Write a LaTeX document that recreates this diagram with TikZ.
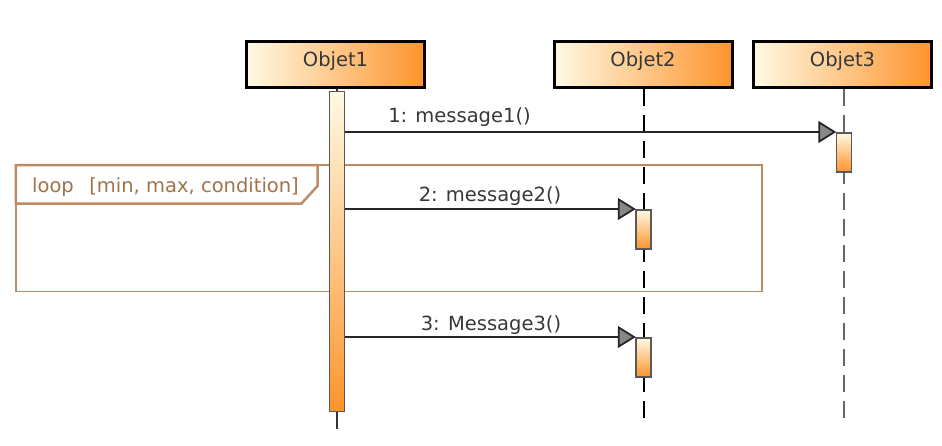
\documentclass[tikz,border=0pt]{standalone}
\usepackage{fontspec}
\newfontfamily\dv{DejaVu Sans}
\usetikzlibrary{arrows.meta}
\definecolor{cream}{RGB}{255,250,228}
\definecolor{orng}{RGB}{253,148,45}
\definecolor{txt}{RGB}{55,55,55}
\definecolor{loopc}{RGB}{190,140,100}
\definecolor{looptxt}{RGB}{160,115,75}
\definecolor{tipgray}{RGB}{135,135,135}
\tikzset{
  objbox/.style={draw=black, line width=3pt, left color=cream, right color=orng,
    minimum width=178pt, minimum height=46pt, inner sep=0pt,
    text height=12pt, text depth=8pt, text=txt, font=\dv\fontsize{19.5}{23}\selectfont},
  actbar/.style={draw=black!65, line width=1.5pt, top color=cream, bottom color=orng,
    minimum width=15pt, inner sep=0pt},
  msg/.style={draw=black!85, line width=1.8pt,
    -{Triangle[length=18pt,width=22pt,fill=tipgray]}, shorten >=-0.5pt},
  msglabel/.style={anchor=base, text=txt, inner sep=0pt, font=\dv\fontsize{19.5}{23}\selectfont},
  lifeline/.style={line width=2pt, dash pattern=on 17pt off 9pt},
}
\begin{document}
\begin{tikzpicture}[x=1pt,y=-1pt]
\useasboundingbox (0,0) rectangle (942,445);
% loop frame (behind)
\coordinate (fnw) at (15.8,165);
\coordinate (fse) at (762,291.7);
\draw[draw=loopc, line width=1.5pt] (fnw) rectangle (fse);
\draw[draw=loopc, line width=2.5pt] (fnw) -- (317.5,165) -- (317.5,186) -- (301.5,203.5) -- (15.8,203.5) -- cycle;
\node[anchor=base west, inner sep=0pt, text=looptxt, font=\dv\fontsize{19.5}{23}\selectfont] (looplabel) at (32,192) {loop\hspace{15.5pt}[min, max, condition]};
% objects
\node[objbox] (o1) at (335.5,64.5) {Objet1};
\node[objbox] (o2) at (643,64.5) {Objet2};
\node[objbox] (o3) at (842.5,64.5) {Objet3};
% lifeline ends
\coordinate (e1) at (337,429);
\coordinate (e2) at (643.5,425);
\coordinate (e3) at (843.5,425);
\draw[lifeline, draw=black] (o2.south -| e2) -- (e2);
\draw[lifeline, draw=black!60] (o3.south -| e3) -- (e3);
\draw[line width=2pt, draw=black!80] (o1.south -| e1) -- (e1);
% activation bars
\node[actbar, minimum height=320pt, anchor=north] (a1) at (337,90.5) {};
\node[actbar, minimum height=39pt, anchor=north] (a3) at (844,132) {};
\node[actbar, minimum height=39pt, anchor=north] (a2) at (643.5,209) {};
\node[actbar, minimum height=39pt, anchor=north] (a4) at (643.5,337) {};
% messages
\draw[msg] (a1.east |- a3.north west) -- (a3.north west);
\draw[msg] (a1.east |- a2.north west) -- (a2.north west);
\draw[msg] (a1.east |- a4.north west) -- (a4.north west);
\node[msglabel] (m1) at (459.5,122) {1: message1()};
\node[msglabel] (m2) at (490,201.5) {2: message2()};
\node[msglabel] (m3) at (491,330.5) {3: Message3()};
\end{tikzpicture}
\end{document}
